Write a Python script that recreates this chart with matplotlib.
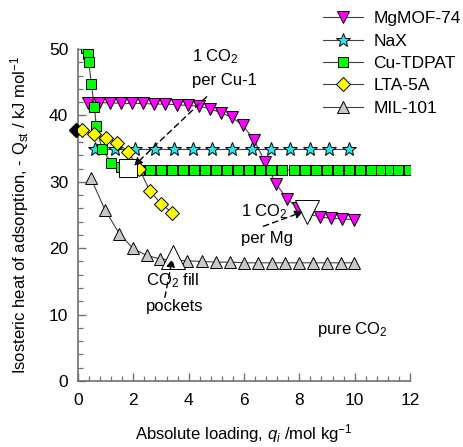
import matplotlib
matplotlib.use("Agg")
import matplotlib.pyplot as plt
from matplotlib.ticker import MultipleLocator

plt.rcParams['font.family'] = ['Liberation Sans', 'DejaVu Sans']
plt.rcParams['mathtext.fontset'] = 'custom'
plt.rcParams['mathtext.rm'] = 'Liberation Sans'
plt.rcParams['mathtext.it'] = 'Liberation Sans:italic'

# Isosteric heat of adsorption vs. loading, pure CO2
mg_x = [0.36, 0.76, 1.16, 1.56, 1.96, 2.36, 2.76, 3.16, 3.56, 3.96, 4.36, 4.76,
        5.16, 5.56, 5.96, 6.36, 6.76, 7.16, 7.56, 7.96, 8.36, 8.76, 9.16, 9.56, 9.96]
mg_y = [41.9, 41.9, 41.9, 41.8, 41.8, 41.8, 41.7, 41.7, 41.6, 41.5, 41.4, 41.0,
        40.4, 39.7, 38.5, 36.3, 33.0, 29.7, 27.4, 26.0, 25.1, 24.7, 24.5, 24.4, 24.3]

nax_x = [0.62, 1.35, 2.07, 2.77, 3.46, 4.16, 4.86, 5.57, 6.28, 6.98, 7.68, 8.38, 9.08, 9.78]
nax_y = [35.0, 35.0, 35.0, 35.0, 35.0, 35.0, 35.0, 35.0, 35.0, 35.0, 35.0, 35.0, 35.0, 35.0]

cu_x = [0.29, 0.35, 0.39, 0.48, 0.59, 0.66, 0.87, 1.20, 1.55, 1.90, 2.20, 2.59,
        2.99, 3.39, 3.79, 4.19, 4.59, 4.99, 5.39, 5.79, 6.19, 6.59, 6.99, 7.39,
        7.79, 8.19, 8.59, 8.99, 9.39, 9.79, 10.19, 10.59, 10.97, 11.27, 11.57, 11.95]
cu_y = [50.1, 49.2, 48.0, 44.8, 41.3, 38.4, 34.9, 32.9, 32.2, 31.9, 31.8, 31.8,
        31.8, 31.8, 31.8, 31.8, 31.8, 31.8, 31.8, 31.8, 31.8, 31.8, 31.8, 31.8,
        31.8, 31.8, 31.8, 31.8, 31.8, 31.8, 31.8, 31.8, 31.8, 31.8, 31.8, 31.8]

lta_x = [0.14, 0.59, 1.00, 1.41, 1.81, 2.22, 2.60, 3.00, 3.41]
lta_y = [37.8, 37.2, 36.6, 35.9, 34.5, 31.9, 28.6, 26.7, 25.3]
lta0_x = [-0.06]
lta0_y = [37.8]

mil_x = [0.47, 0.97, 1.49, 1.98, 2.48, 2.96, 3.45, 3.95, 4.47, 4.98, 5.49, 6.00,
         6.50, 7.00, 7.50, 8.00, 8.50, 9.00, 9.50, 9.98]
mil_y = [30.5, 25.8, 22.2, 20.0, 18.9, 18.4, 18.2, 18.1, 18.0, 17.9, 17.9, 17.8,
         17.8, 17.8, 17.8, 17.8, 17.8, 17.8, 17.8, 17.8]

# highlighted points (open symbols)
cu1_pt = (1.82, 32.1)
mg_pt = (8.26, 25.4)
mil_pt = (3.44, 18.6)

fig = plt.figure(figsize=(4.63, 4.47), dpi=100)
ax = fig.add_axes([0.1685, 0.1477, 0.717, 0.7427])

line_kw = dict(color='#404040', lw=0.8, markeredgecolor='black', markeredgewidth=0.7)
ax.plot(mil_x, mil_y, marker='^', ms=8, markerfacecolor='#C8C8C8', label='MIL-101', zorder=3, **line_kw)
ax.plot(mg_x, mg_y, marker='v', ms=9, markerfacecolor='#FF00FF', label='MgMOF-74', zorder=4, **line_kw)
ax.plot(nax_x, nax_y, marker='*', ms=10.5, markerfacecolor='#22E6F0', label='NaX', zorder=4, **line_kw)
ax.plot(cu_x, cu_y, marker='s', ms=7.5, markerfacecolor='#00FF00', label='Cu-TDPAT', zorder=4, **line_kw)
ax.plot(lta0_x, lta0_y, marker='D', ms=7, ls='none', markerfacecolor='black',
        markeredgecolor='black', zorder=5, clip_on=False)
ax.plot(lta_x, lta_y, marker='D', ms=7, markerfacecolor='#FFFF00', label='LTA-5A', zorder=6, **line_kw)

white_kw = dict(ls='none', markerfacecolor='white', markeredgecolor='black', markeredgewidth=0.7, zorder=7)
ax.plot([cu1_pt[0]], [cu1_pt[1]], marker='s', ms=13, **white_kw)
ax.plot([mg_pt[0]], [mg_pt[1]], marker='v', ms=17, **white_kw)
ax.plot([mil_pt[0]], [mil_pt[1]], marker='^', ms=17, **white_kw)

arrow_kw = dict(arrowstyle='-|>', linestyle=(0, (4, 3)), color='black', lw=1.0,
                mutation_scale=12, shrinkA=0, shrinkB=0)
ax.annotate('', xy=(2.02, 32.4), xytext=(4.65, 42.8), arrowprops=arrow_kw, zorder=8)
ax.annotate('', xy=(8.14, 25.5), xytext=(6.70, 23.3), arrowprops=arrow_kw, zorder=8)
ax.annotate('', xy=(3.41, 18.4), xytext=(3.14, 12.6), arrowprops=arrow_kw, zorder=8)

fs = 12
ax.text(4.12, 48.9, '1 CO$_2$', fontsize=fs, va='center', ha='left')
ax.text(4.12, 45.3, 'per Cu-1', fontsize=fs, va='center', ha='left')
ax.text(5.88, 25.5, '1 CO$_2$', fontsize=fs, va='center', ha='left', zorder=9)
ax.text(5.88, 21.5, 'per Mg', fontsize=fs, va='center', ha='left', zorder=9)
ax.text(2.45, 15.1, 'CO$_2$ fill', fontsize=fs, va='center', ha='left', zorder=9)
ax.text(2.45, 11.2, 'pockets', fontsize=fs, va='center', ha='left', zorder=9)
ax.text(8.63, 7.7, 'pure CO$_2$', fontsize=fs, va='center', ha='left')

ax.set_xlim(0, 12)
ax.set_ylim(0, 50)
ax.xaxis.set_major_locator(MultipleLocator(2))
ax.xaxis.set_minor_locator(MultipleLocator(0.4))
ax.yaxis.set_major_locator(MultipleLocator(10))
ax.yaxis.set_minor_locator(MultipleLocator(2))
for s in ['top', 'right']:
    ax.spines[s].set_visible(False)
for s in ['left', 'bottom']:
    ax.spines[s].set_color('#707070')
    ax.spines[s].set_linewidth(1.2)
ax.tick_params(which='both', direction='in', color='#707070', labelsize=12.5)
ax.tick_params(which='major', length=6, width=1.0)
ax.tick_params(which='minor', length=3.5, width=0.9)
ax.tick_params(axis='x', pad=9)
ax.tick_params(axis='y', pad=7)

ax.set_xlabel('Absolute loading, $q_i$ /mol kg$^{-1}$', fontsize=12, labelpad=10)
ax.set_ylabel('Isosteric heat of adsorption, - Q$_{\\mathrm{st}}$ / kJ mol$^{-1}$', fontsize=12, labelpad=13)

handles, labels = ax.get_legend_handles_labels()
order = ['MgMOF-74', 'NaX', 'Cu-TDPAT', 'LTA-5A', 'MIL-101']
hmap = dict(zip(labels, handles))
fig.legend([hmap[k] for k in order], order, loc='upper left',
           bbox_to_anchor=(323 / 463, 1 - 11 / 447), frameon=False, fontsize=12.5,
           handlelength=2.3, handletextpad=0.6, labelspacing=0.42, borderpad=0,
           borderaxespad=0)

fig.savefig('out.png', dpi=100)
